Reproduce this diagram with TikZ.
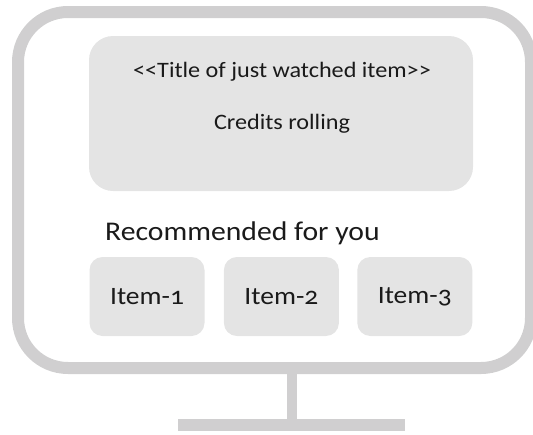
\documentclass[tikz,border=0pt]{standalone}
\usepackage{fontspec}
\setmainfont{Carlito}[Numbers=OldStyle, FakeStretch=1.1]
\usetikzlibrary{positioning}

\definecolor{framegray}{RGB}{208,207,208}
\definecolor{panelgray}{RGB}{228,228,228}
\definecolor{inkgray}{RGB}{26,26,26}

\tikzset{
  frame/.style={draw=framegray, line width=12pt, rounded corners=50pt},
  panel/.style={fill=panelgray, rounded corners=24pt, inner sep=0pt},
  itembox/.style={fill=panelgray, rounded corners=13pt, inner sep=0pt,
                  minimum width=115pt, minimum height=79pt,
                  font=\fontsize{25}{30}\selectfont, text=inkgray},
  caption/.style={text=inkgray, inner sep=0pt}
}

\begin{document}
\begin{tikzpicture}[x=1pt, y=-1pt]
  \useasboundingbox (0,0) rectangle (533,434);

  % monitor and stand
  \draw[frame] (18,12) rectangle (531,368);
  \coordinate (neck) at (292,368);
  \coordinate (foot) at (292,425);
  \draw[draw=framegray, line width=10pt] (neck) -- (foot);
  \draw[draw=framegray, line width=12pt] (178,425) -- (405,425);

  % now-playing panel
  \node[panel, minimum width=384pt, minimum height=155pt] (title) at (281,113.5) {};
  \node[caption, font=\fontsize{22}{26}\selectfont] (tline) at (282,72) {<{}<Title of just watched item>{}>};
  \node[caption, font=\fontsize{22}{26}\selectfont] (credits) at (282,124) {Credits rolling};

  % recommendations
  \node[caption, anchor=west, font=\fontsize{27}{32}\selectfont] (rec) at (105,233) {Recommended for you};
  \node[itembox] (item1) at (147,296.5) {Item-1};
  \node[itembox, right=19pt of item1] (item2) {Item-2};
  \node[itembox, right=18pt of item2] (item3) {Item-3};
\end{tikzpicture}
\end{document}
